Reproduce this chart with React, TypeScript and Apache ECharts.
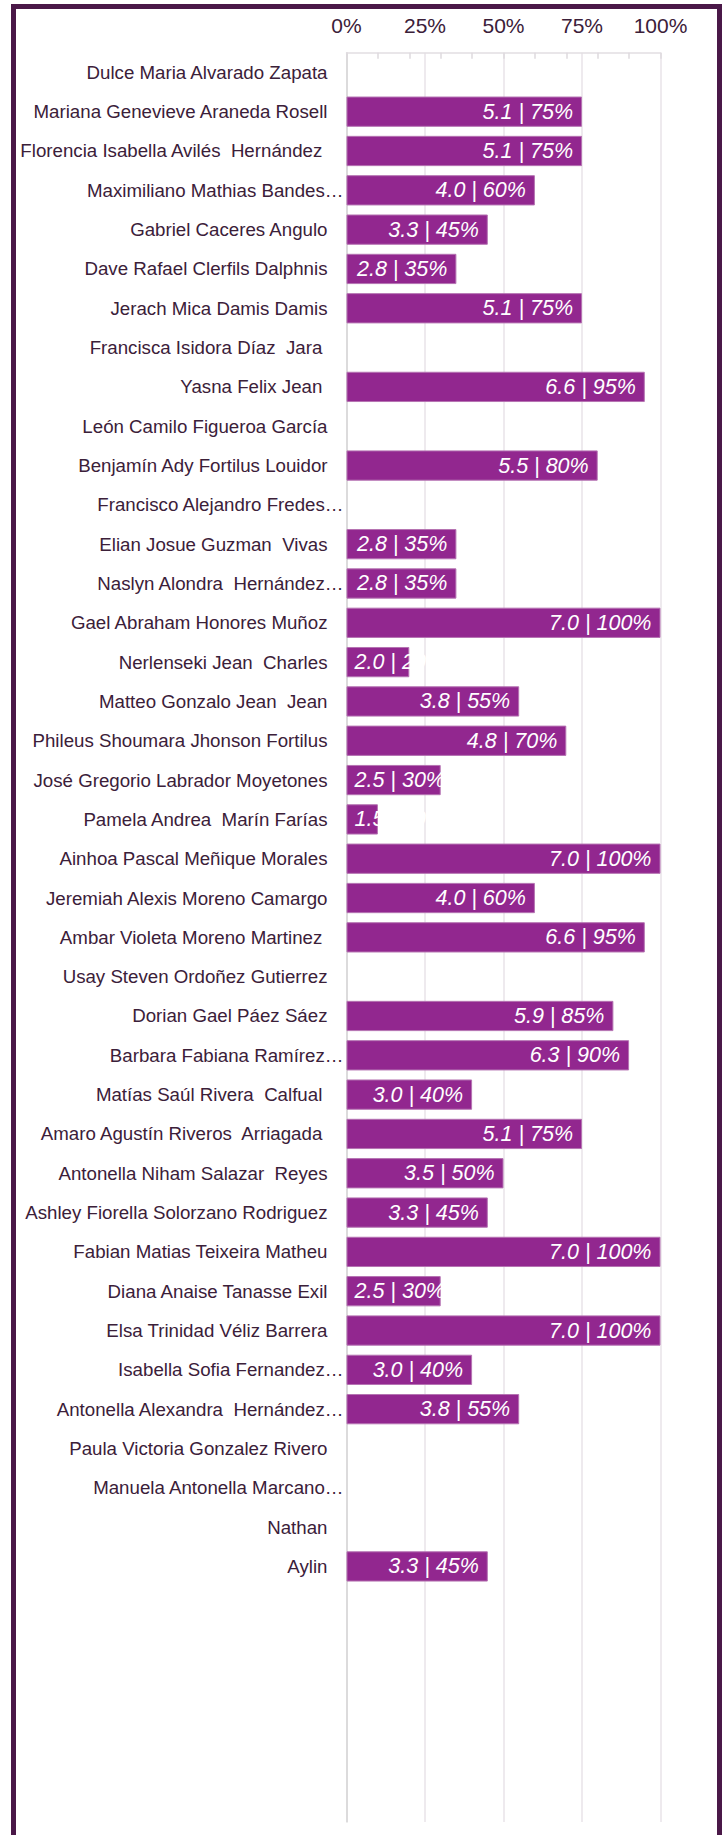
import React, { useEffect, useRef } from "react";
import * as echarts from "echarts";

const names: string[] = [
  "Dulce Maria Alvarado Zapata",
  "Mariana Genevieve Araneda Rosell",
  "Florencia Isabella Avilés  Hernández ",
  "Maximiliano Mathias Bandes…",
  "Gabriel Caceres Angulo",
  "Dave Rafael Clerfils Dalphnis",
  "Jerach Mica Damis Damis",
  "Francisca Isidora Díaz  Jara ",
  "Yasna Felix Jean ",
  "León Camilo Figueroa García",
  "Benjamín Ady Fortilus Louidor",
  "Francisco Alejandro Fredes…",
  "Elian Josue Guzman  Vivas",
  "Naslyn Alondra  Hernández…",
  "Gael Abraham Honores Muñoz",
  "Nerlenseki Jean  Charles",
  "Matteo Gonzalo Jean  Jean",
  "Phileus Shoumara Jhonson Fortilus",
  "José Gregorio Labrador Moyetones",
  "Pamela Andrea  Marín Farías",
  "Ainhoa Pascal Meñique Morales",
  "Jeremiah Alexis Moreno Camargo",
  "Ambar Violeta Moreno Martinez ",
  "Usay Steven Ordoñez Gutierrez",
  "Dorian Gael Páez Sáez",
  "Barbara Fabiana Ramírez…",
  "Matías Saúl Rivera  Calfual ",
  "Amaro Agustín Riveros  Arriagada ",
  "Antonella Niham Salazar  Reyes",
  "Ashley Fiorella Solorzano Rodriguez",
  "Fabian Matias Teixeira Matheu",
  "Diana Anaise Tanasse Exil",
  "Elsa Trinidad Véliz Barrera",
  "Isabella Sofia Fernandez…",
  "Antonella Alexandra  Hernández…",
  "Paula Victoria Gonzalez Rivero",
  "Manuela Antonella Marcano…",
  "Nathan",
  "Aylin",
  "", "", "", "", "", "",
];

const grades: (number | null)[] = [
  null, 5.1, 5.1, 4.0, 3.3, 2.8, 5.1, null, 6.6, null,
  5.5, null, 2.8, 2.8, 7.0, 2.0, 3.8, 4.8, 2.5, 1.5,
  7.0, 4.0, 6.6, null, 5.9, 6.3, 3.0, 5.1, 3.5, 3.3,
  7.0, 2.5, 7.0, 3.0, 3.8, null, null, null, 3.3,
  null, null, null, null, null, null,
];

const pcts: (number | null)[] = [
  null, 75, 75, 60, 45, 35, 75, null, 95, null,
  80, null, 35, 35, 100, 20, 55, 70, 30, 10,
  100, 60, 95, null, 85, 90, 40, 75, 50, 45,
  100, 30, 100, 40, 55, null, null, null, 45,
  null, null, null, null, null, null,
];

const xTicks = [0, 25, 50, 75, 100];

const FONT = "'Liberation Sans', Arial, sans-serif";
const LABEL_SIZE = 21.5;
const CAT_SIZE = 18.7;

function labelText(i: number): string {
  const g = grades[i];
  const p = pcts[i];
  if (g == null || p == null) return "";
  return `${g.toFixed(1)} | ${p}%`;
}

export default function App() {
  const ref = useRef<HTMLDivElement>(null);

  useEffect(() => {
    if (!ref.current) return;
    const chart = echarts.init(ref.current, null, { renderer: "svg" });

    const option: any = {
      animation: false,
      backgroundColor: "#ffffff",
      grid: { left: 346.5, right: 64.5, top: 52.7, bottom: 13, containLabel: false },
      graphic: [
        {
          type: "rect",
          silent: true,
          shape: { x: 13.5, y: 6.5, width: 706, height: 1900 },
          style: { fill: "none", stroke: "#4a1848", lineWidth: 5 },
          z: 100,
        },
      ],
      xAxis: [
        {
          type: "value",
          position: "top",
          min: xTicks[0],
          max: xTicks[xTicks.length - 1],
          interval: xTicks[1] - xTicks[0],
          axisLabel: {
            formatter: "{value}%",
            fontSize: 21,
            fontFamily: FONT,
            color: "#3b2039",
            margin: 17,
          },
          axisLine: { show: true, lineStyle: { color: "#e2dee2", width: 1.5 } },
          axisTick: { show: false },
          splitLine: { show: true, lineStyle: { color: "#e8e3e8", width: 1.5 } },
        },
        {
          type: "value",
          position: "top",
          min: 0,
          max: 100,
          interval: 10,
          axisLabel: { show: false },
          axisLine: { show: false },
          splitLine: { show: false },
          axisTick: { show: true, inside: true, length: 6, lineStyle: { color: "#dedade", width: 1.5 } },
        },
      ],
      yAxis: {
        type: "category",
        inverse: true,
        data: names,
        axisLine: { show: true, lineStyle: { color: "#d6d6d6", width: 1.5 } },
        axisTick: { show: false },
        splitLine: { show: false },
        axisLabel: {
          interval: 0,
          margin: 3,
          fontSize: CAT_SIZE,
          fontFamily: FONT,
          color: "#3b2039",
          formatter: (v: string) => (v.endsWith("…") ? `{n|${v}}` : `{n|${v}}{p| }`),
          rich: {
            n: { fontSize: CAT_SIZE, fontFamily: FONT, color: "#3b2039" },
            p: { width: 16, fontSize: CAT_SIZE },
          },
        },
      },
      series: [
        {
          type: "bar",
          xAxisIndex: 0,
          barCategoryGap: "23%",
          itemStyle: { color: "#92278f", borderColor: "#b573b2", borderWidth: 1 },
          data: pcts,
        },
      ],
    };
    chart.setOption(option);

    const canvas = document.createElement("canvas");
    const ctx = canvas.getContext("2d")!;
    ctx.font = `italic ${LABEL_SIZE}px 'Liberation Sans'`;
    const x0 = chart.convertToPixel({ xAxisIndex: 0 }, 0) as number;

    const data = pcts.map((p, i) => {
      if (p == null) return null;
      const txt = labelText(i);
      const barPx = (chart.convertToPixel({ xAxisIndex: 0 }, p) as number) - x0;
      const tw = ctx.measureText(txt).width;
      const base = {
        show: true,
        formatter: txt,
        color: "#ffffff",
        fontStyle: "italic",
        fontSize: LABEL_SIZE,
        fontFamily: FONT,
      };
      if (tw + 18 <= barPx) {
        return { value: p, label: { ...base, position: "insideRight", distance: 9 } };
      }
      return {
        value: p,
        label: { ...base, position: "insideLeft", distance: 8 },
      };
    });

    chart.setOption({ series: [{ data }] });

    return () => chart.dispose();
  }, []);

  return (
    <div
      ref={ref}
      style={{ position: "fixed", left: 0, top: 0, width: 725, height: 1835, background: "#fff" }}
    />
  );
}
